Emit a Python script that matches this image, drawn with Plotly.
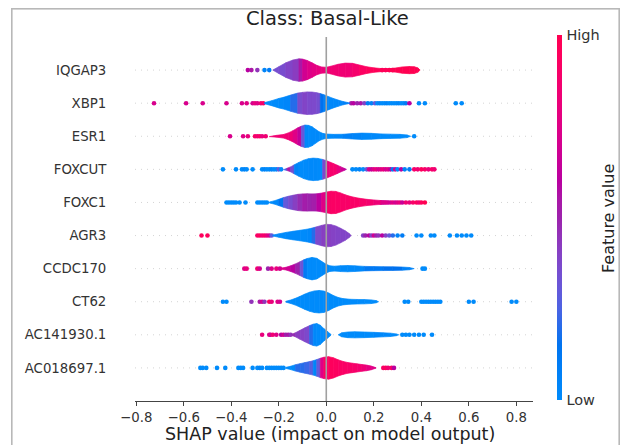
import numpy as np
import plotly.graph_objects as go

# ---------------- data ----------------
FEATURES = ["IQGAP3", "XBP1", "ESR1", "FOXCUT", "FOXC1", "AGR3",
            "CCDC170", "CT62", "AC141930.1", "AC018697.1"]
X_TICKS = [-0.8, -0.6, -0.4, -0.2, 0.0, 0.2, 0.4, 0.6, 0.8]
X_TICK_TEXT = ["\u22120.8", "\u22120.6", "\u22120.4", "\u22120.2", "0.0", "0.2", "0.4", "0.6", "0.8"]
TITLE = "Class: Basal-Like"
X_LABEL = "SHAP value (impact on model output)"
CBAR_LABEL = "Feature value"
CBAR_TICKS = ["Low", "High"]

# violin knots: SHAP x, relative half-width, mean feature value (0=low,1=high)
IQGAP3_X = [-0.225, -0.20, -0.17, -0.14, -0.115, -0.10, -0.08, -0.06, -0.04, -0.02, 0.00, 0.02, 0.05, 0.08, 0.11, 0.14, 0.17, 0.20, 0.23, 0.26, 0.29, 0.32, 0.35, 0.37, 0.385, 0.395]
IQGAP3_W = [0.0, 0.30, 0.65, 0.90, 1.0, 0.98, 0.85, 0.65, 0.42, 0.28, 0.25, 0.35, 0.52, 0.62, 0.60, 0.45, 0.30, 0.20, 0.14, 0.12, 0.18, 0.28, 0.32, 0.30, 0.20, 0.0]
IQGAP3_C = [0.35, 0.35, 0.38, 0.40, 0.45, 0.65, 0.72, 0.75, 0.78, 0.80, 0.82, 0.85, 0.85, 0.82, 0.85, 0.90, 0.95, 0.97, 0.97, 0.97, 1.0, 1.0, 1.0, 1.0, 1.0, 1.0]
IQGAP3_DOT_X = [-0.33, -0.315, -0.29, -0.26, -0.24, 0.235, 0.25, 0.265, 0.28]
IQGAP3_DOT_C = [0.6, 0.55, 0.45, 0.05, 0.1, 0.9, 0.95, 0.95, 1.0]

XBP1_X = [-0.26, -0.23, -0.20, -0.18, -0.15, -0.12, -0.10, -0.08, -0.06, -0.04, -0.025, -0.01, 0.01, 0.03, 0.05, 0.07, 0.09, 0.10]
XBP1_W = [0.05, 0.22, 0.42, 0.52, 0.72, 0.90, 0.96, 1.0, 0.99, 0.93, 0.85, 0.75, 0.58, 0.42, 0.28, 0.15, 0.06, 0.0]
XBP1_C = [0.0, 0.0, 0.0, 0.02, 0.05, 0.35, 0.38, 0.40, 0.35, 0.40, 0.30, 0.05, 0.03, 0.02, 0.02, 0.05, 0.1, 0.1]
XBP1_DOT_X = [-0.725, -0.59, -0.52, -0.42, -0.355, -0.335, -0.31, -0.30, -0.29, -0.275, -0.265,
              0.105, 0.115, 0.13, 0.145, 0.16, 0.175, 0.19, 0.205, 0.215, 0.225, 0.235, 0.245, 0.255,
              0.265, 0.275, 0.285, 0.295, 0.305, 0.315, 0.325, 0.335, 0.35, 0.39, 0.415, 0.545, 0.57]
XBP1_DOT_C = [0.72, 0.72, 0.72, 0.72, 0.72, 0.75, 0.7, 0.8, 0.75, 0.85, 0.9,
              0.55, 0.6, 0.5, 0.55, 0.4, 0.1, 0.05, 0.3, 0.0, 0.05, 0.0, 0.0, 0.05,
              0.0, 0.0, 0.0, 0.0, 0.05, 0.0, 0.0, 0.1, 0.6, 0.0, 0.0, 0.0, 0.0]

ESR1_X = [-0.24, -0.21, -0.18, -0.16, -0.14, -0.12, -0.105, -0.09, -0.075, -0.06, -0.045, -0.03, -0.015, 0.00, 0.03, 0.07, 0.11, 0.15, 0.19, 0.23, 0.27, 0.31, 0.34, 0.355]
ESR1_W = [0.03, 0.08, 0.16, 0.30, 0.50, 0.75, 0.90, 1.0, 0.97, 0.85, 0.62, 0.40, 0.26, 0.20, 0.17, 0.18, 0.24, 0.28, 0.26, 0.21, 0.19, 0.17, 0.12, 0.0]
ESR1_C = [0.85, 0.85, 0.85, 0.85, 0.80, 0.70, 0.55, 0.05, 0.0, 0.0, 0.02, 0.0, 0.0, 0.0, 0.0, 0.05, 0.1, 0.0, 0.02, 0.0, 0.0, 0.0, 0.0, 0.0]
ESR1_DOT_X = [-0.405, -0.35, -0.33, -0.30, -0.29, -0.28, -0.27, -0.255, 0.37]
ESR1_DOT_C = [0.72, 0.75, 0.8, 0.9, 0.85, 0.9, 0.8, 0.85, 0.0]

FOXCUT_X = [-0.18, -0.165, -0.15, -0.135, -0.115, -0.095, -0.075, -0.055, -0.035, -0.015, 0.00, 0.015, 0.03, 0.045, 0.06, 0.075, 0.085]
FOXCUT_W = [0.03, 0.10, 0.22, 0.40, 0.62, 0.82, 0.95, 1.0, 0.97, 0.88, 0.78, 0.65, 0.52, 0.38, 0.24, 0.10, 0.0]
FOXCUT_C = [0.05, 0.5, 0.6, 0.1, 0.0, 0.0, 0.0, 0.02, 0.0, 0.0, 0.75, 0.85, 0.9, 0.85, 0.75, 0.6, 0.6]
FOXCUT_DOT_X = [-0.435, -0.38, -0.355, -0.345, -0.335, -0.31, -0.27, -0.26, -0.25, -0.24, -0.23, -0.22, -0.21, -0.20, -0.19,
                0.11, 0.125, 0.14, 0.155, 0.17, 0.18, 0.19, 0.20, 0.21, 0.22, 0.23, 0.24, 0.25, 0.26, 0.27, 0.28,
                0.29, 0.30, 0.315, 0.33, 0.35, 0.37, 0.385, 0.40, 0.415, 0.43, 0.445, 0.455]
FOXCUT_DOT_C = [0.0, 0.0, 0.0, 0.05, 0.0, 0.0, 0.0, 0.05, 0.0, 0.0, 0.05, 0.0, 0.0, 0.3, 0.0,
                0.0, 0.0, 0.05, 0.0, 0.3, 0.7, 0.65, 0.75, 0.8, 0.7, 0.75, 0.8, 0.7, 0.75, 0.6, 0.1,
                0.7, 0.0, 0.6, 0.05, 0.1, 0.9, 0.85, 0.95, 0.9, 0.8, 0.9, 0.85]

FOXC1_X = [-0.24, -0.22, -0.20, -0.18, -0.16, -0.14, -0.12, -0.10, -0.08, -0.06, -0.04, -0.02, 0.00, 0.02, 0.04, 0.06, 0.08, 0.10, 0.12, 0.14, 0.17, 0.20, 0.23, 0.26, 0.28]
FOXC1_W = [0.04, 0.14, 0.28, 0.43, 0.55, 0.64, 0.72, 0.76, 0.77, 0.76, 0.77, 0.83, 0.92, 1.0, 0.98, 0.85, 0.68, 0.55, 0.45, 0.37, 0.28, 0.22, 0.17, 0.12, 0.0]
FOXC1_C = [0.0, 0.0, 0.05, 0.25, 0.35, 0.38, 0.45, 0.50, 0.55, 0.45, 0.60, 0.62, 0.88, 0.92, 0.92, 0.9, 0.9, 0.9, 0.92, 0.9, 0.88, 0.85, 0.8, 0.7, 0.7]
FOXC1_DOT_X = [-0.42, -0.41, -0.40, -0.39, -0.38, -0.365, -0.34, -0.29, -0.28, -0.27, -0.26, -0.25,
               0.23, 0.24, 0.25, 0.26, 0.27, 0.28, 0.29, 0.30, 0.31, 0.32, 0.335, 0.35, 0.365, 0.38, 0.39, 0.40, 0.415]
FOXC1_DOT_C = [0.0] * 12 + [0.6, 0.55, 0.7, 0.65, 0.75, 0.8, 0.7, 0.75, 0.8, 0.65, 0.85, 0.8, 0.9, 0.95, 0.85, 0.95, 1.0]

AGR3_X = [-0.225, -0.20, -0.17, -0.14, -0.11, -0.08, -0.06, -0.045, -0.02, 0.00, 0.02, 0.04, 0.06, 0.08, 0.095, 0.105]
AGR3_W = [0.04, 0.15, 0.28, 0.38, 0.47, 0.57, 0.66, 0.75, 0.90, 1.0, 0.97, 0.85, 0.65, 0.42, 0.20, 0.0]
AGR3_C = [0.0, 0.0, 0.0, 0.02, 0.0, 0.0, 0.05, 0.35, 0.40, 0.42, 0.40, 0.40, 0.38, 0.40, 0.38, 0.4]
AGR3_DOT_X = [-0.525, -0.50, -0.29, -0.28, -0.27, -0.26, -0.25, -0.24, -0.23,
              0.155, 0.165, 0.18, 0.19, 0.20, 0.21, 0.22, 0.235, 0.25, 0.265, 0.28, 0.30, 0.32, 0.38, 0.40,
              0.44, 0.455, 0.52, 0.55, 0.57, 0.59, 0.61]
AGR3_DOT_C = [0.95, 0.95, 0.9, 0.95, 0.85, 0.9, 0.8, 0.7, 0.3,
              0.4, 0.5, 0.6, 0.4, 0.7, 0.5, 0.45, 0.6, 0.4, 0.3, 0.2, 0.05, 0.1, 0.0, 0.0,
              0.0, 0.0, 0.0, 0.0, 0.0, 0.0, 0.0]

CCDC170_X = [-0.19, -0.17, -0.15, -0.13, -0.11, -0.095, -0.08, -0.06, -0.04, -0.02, 0.00, 0.015, 0.035, 0.06, 0.09, 0.12, 0.16, 0.20, 0.24, 0.28, 0.32, 0.35, 0.37]
CCDC170_W = [0.05, 0.12, 0.25, 0.42, 0.62, 0.78, 0.90, 1.0, 0.92, 0.65, 0.38, 0.25, 0.22, 0.26, 0.28, 0.25, 0.20, 0.18, 0.17, 0.16, 0.14, 0.10, 0.0]
CCDC170_C = [0.75, 0.7, 0.65, 0.55, 0.45, 0.2, 0.0, 0.0, 0.0, 0.0, 0.02, 0.0, 0.0, 0.0, 0.02, 0.0, 0.05, 0.2, 0.05, 0.3, 0.05, 0.1, 0.0]
CCDC170_DOT_X = [-0.345, -0.335, -0.29, -0.28, -0.245, -0.23, -0.21, -0.195, 0.405, 0.415]
CCDC170_DOT_C = [0.75, 0.8, 0.85, 0.7, 0.5, 0.75, 0.8, 0.7, 0.0, 0.0]

CT62_X = [-0.17, -0.15, -0.13, -0.11, -0.09, -0.07, -0.05, -0.03, -0.01, 0.01, 0.03, 0.05, 0.07, 0.10, 0.13, 0.16, 0.19, 0.21, 0.22]
CT62_W = [0.04, 0.15, 0.30, 0.48, 0.68, 0.85, 0.96, 1.0, 0.95, 0.78, 0.55, 0.38, 0.28, 0.22, 0.20, 0.19, 0.16, 0.10, 0.0]
CT62_C = [0.1, 0.0, 0.0, 0.0, 0.0, 0.0, 0.0, 0.0, 0.0, 0.0, 0.0, 0.0, 0.0, 0.0, 0.0, 0.0, 0.0, 0.0, 0.0]
CT62_DOT_X = [-0.435, -0.42, -0.315, -0.28, -0.27, -0.26, -0.24, -0.23, -0.205, -0.195,
              0.33, 0.345, 0.40, 0.41, 0.42, 0.43, 0.44, 0.45, 0.46, 0.47, 0.48, 0.60, 0.62, 0.78, 0.80]
CT62_DOT_C = [0.0, 0.0, 0.45, 0.55, 0.7, 0.45, 0.95, 0.8, 0.75, 0.7] + [0.0] * 15

AC141930_1_X = [-0.145, -0.13, -0.11, -0.09, -0.07, -0.055, -0.04, -0.025, -0.01, 0.005, 0.015, 0.02, 0.05, 0.065, 0.09, 0.12, 0.16, 0.20, 0.24, 0.27, 0.295, 0.305]
AC141930_1_W = [0.05, 0.18, 0.40, 0.62, 0.82, 0.95, 1.0, 0.85, 0.55, 0.30, 0.12, 0.0, 0.0, 0.18, 0.25, 0.27, 0.25, 0.22, 0.18, 0.15, 0.08, 0.0]
AC141930_1_C = [0.5, 0.45, 0.4, 0.4, 0.35, 0.05, 0.0, 0.0, 0.0, 0.0, 0.0, 0.0, 0.0, 0.0, 0.0, 0.0, 0.0, 0.0, 0.05, 0.0, 0.0, 0.0]
AC141930_1_DOT_X = [-0.27, -0.24, -0.235, -0.225, -0.21, -0.19, -0.18, -0.17, -0.16, -0.15,
                    0.32, 0.335, 0.35, 0.37, 0.39, 0.41, 0.445]
AC141930_1_DOT_C = [0.8, 0.75, 0.7, 0.85, 0.75, 0.6, 0.7, 0.5, 0.55, 0.45] + [0.0] * 7

AC018697_1_X = [-0.17, -0.15, -0.13, -0.11, -0.09, -0.07, -0.055, -0.04, -0.025, -0.01, 0.01, 0.03, 0.05, 0.07, 0.09, 0.11, 0.13, 0.15, 0.17, 0.19, 0.205, 0.21]
AC018697_1_W = [0.05, 0.15, 0.28, 0.38, 0.47, 0.56, 0.64, 0.74, 0.86, 0.95, 1.0, 0.90, 0.72, 0.58, 0.48, 0.42, 0.36, 0.30, 0.25, 0.16, 0.05, 0.0]
AC018697_1_C = [0.0, 0.0, 0.0, 0.4, 0.0, 0.45, 0.1, 0.0, 0.6, 0.9, 0.95, 0.95, 0.92, 0.92, 0.9, 0.9, 0.88, 0.85, 0.8, 0.75, 0.75, 0.75]
AC018697_1_DOT_X = [-0.53, -0.52, -0.505, -0.46, -0.425, -0.37, -0.36, -0.35, -0.31, -0.29, -0.28, -0.27,
                    -0.25, -0.24, -0.23, -0.22, -0.21, -0.20, -0.19, -0.18, 0.24, 0.25, 0.26, 0.275, 0.285]
AC018697_1_DOT_C = [0.0] * 10 + [0.05] + [0.0] * 9 + [0.9, 0.95, 0.85, 0.9, 0.6]

VIOLINS = {
    "IQGAP3": (IQGAP3_X, IQGAP3_W, IQGAP3_C, IQGAP3_DOT_X, IQGAP3_DOT_C),
    "XBP1": (XBP1_X, XBP1_W, XBP1_C, XBP1_DOT_X, XBP1_DOT_C),
    "ESR1": (ESR1_X, ESR1_W, ESR1_C, ESR1_DOT_X, ESR1_DOT_C),
    "FOXCUT": (FOXCUT_X, FOXCUT_W, FOXCUT_C, FOXCUT_DOT_X, FOXCUT_DOT_C),
    "FOXC1": (FOXC1_X, FOXC1_W, FOXC1_C, FOXC1_DOT_X, FOXC1_DOT_C),
    "AGR3": (AGR3_X, AGR3_W, AGR3_C, AGR3_DOT_X, AGR3_DOT_C),
    "CCDC170": (CCDC170_X, CCDC170_W, CCDC170_C, CCDC170_DOT_X, CCDC170_DOT_C),
    "CT62": (CT62_X, CT62_W, CT62_C, CT62_DOT_X, CT62_DOT_C),
    "AC141930.1": (AC141930_1_X, AC141930_1_W, AC141930_1_C, AC141930_1_DOT_X, AC141930_1_DOT_C),
    "AC018697.1": (AC018697_1_X, AC018697_1_W, AC018697_1_C, AC018697_1_DOT_X, AC018697_1_DOT_C),
}


# ---------------- SHAP red_blue colormap ----------------
def lch2rgb(L, C, H):
    a = C * np.cos(H)
    b = C * np.sin(H)
    fy = (L + 16) / 116
    fx = fy + a / 500
    fz = fy - b / 200

    def finv(t):
        return t ** 3 if t ** 3 > 0.008856 else (t - 16 / 116) / 7.787

    X = 0.95047 * finv(fx)
    Y = 1.0 * finv(fy)
    Z = 1.08883 * finv(fz)
    lin = [3.2406 * X - 1.5372 * Y - 0.4986 * Z,
           -0.9689 * X + 1.8758 * Y + 0.0415 * Z,
           0.0557 * X - 0.2040 * Y + 1.0570 * Z]
    out = []
    for c in lin:
        c = 12.92 * c if c <= 0.0031308 else 1.055 * c ** (1 / 2.4) - 0.055
        out.append(min(max(c, 0.0), 1.0))
    return out


blue_lch = [54.0, 70.0, 4.6588]
red_lch = [54.0, 90.0, 0.35470565 + 2 * np.pi]
nsteps = 100
l_vals = list(np.linspace(blue_lch[0], 40.0, nsteps // 2)) + list(np.linspace(40.0, red_lch[0], nsteps // 2))
c_vals = np.linspace(blue_lch[1], red_lch[1], nsteps)
h_vals = np.linspace(blue_lch[2], red_lch[2], nsteps)
CMAP = [lch2rgb(l_vals[i], c_vals[i], h_vals[i]) for i in range(nsteps)]


def rgb_str(c):
    return "rgb(%d,%d,%d)" % tuple(int(round(v * 255)) for v in c)


def cmap(v):
    v = min(max(v, 0.0), 1.0)
    return rgb_str(CMAP[int(round(v * (nsteps - 1)))])


COLORSCALE = [[i / 20, cmap(i / 20)] for i in range(21)]

# ---------------- figure ----------------
W, H = 629, 445
ML, MR, MT, MB = 135, 96, 37, 44
X_RANGE = [-0.805, 0.87]
n = len(FEATURES)
S = 0.34  # max half-width in row units


def px_x(p):
    return (p - ML) / (W - ML - MR)


def px_y(p):
    return (H - MB - p) / (H - MT - MB)


fig = go.Figure()

# dots
first = True
for i, name in enumerate(FEATURES):
    y = n - 1 - i
    xs, ws, cs, dx, dc = VIOLINS[name]
    marker = dict(size=4.6, color=dc, colorscale=COLORSCALE, cmin=0, cmax=1, line=dict(width=0))
    if first:
        marker.update(showscale=True, colorbar=dict(
            x=px_x(556.5), xanchor="left", xpad=0, ypad=0,
            y=px_y(217.5), yanchor="middle", len=365, lenmode="pixels",
            thickness=5, outlinewidth=0, tickvals=[0, 1], ticktext=CBAR_TICKS,
            ticks="outside", ticklen=2, tickcolor="rgba(0,0,0,0)",
            tickfont=dict(family="DejaVu Sans", size=14.5, color="#333333")))
        first = False
    fig.add_trace(go.Scatter(x=dx, y=[y] * len(dx), mode="markers", marker=marker,
                             hoverinfo="skip", showlegend=False))

# violins
for i, name in enumerate(FEATURES):
    y = n - 1 - i
    xs, ws, cs, dx, dc = VIOLINS[name]
    for j in range(len(xs) - 1):
        w0, w1 = ws[j] * S, ws[j + 1] * S
        if w0 == 0 and w1 == 0:
            continue
        col = cmap((cs[j] + cs[j + 1]) / 2)
        fig.add_trace(go.Scatter(
            x=[xs[j], xs[j + 1], xs[j + 1], xs[j], xs[j]],
            y=[y - w0, y - w1, y + w1, y + w0, y - w0],
            mode="lines", fill="toself", fillcolor=col,
            line=dict(color=col, width=0.7), hoverinfo="skip", showlegend=False))

shapes = []
for i in range(n):
    shapes.append(dict(type="line", xref="paper", x0=0, x1=1, yref="y", y0=i, y1=i,
                       line=dict(color="#d4d4d4", width=1, dash="1px,5px"), layer="below"))
shapes.append(dict(type="line", xref="x", x0=0, x1=0, yref="paper", y0=0, y1=1,
                   line=dict(color="#a0a0a0", width=1.6), layer="above"))

annotations = [
    # surrounding frame of the picture (open at the bottom edge of the page)
    dict(text=" ", x=px_x(11), y=px_y(8), xref="paper", yref="paper", showarrow=False,
         xanchor="left", yanchor="top", width=606, height=460, borderpad=0,
         bordercolor="#b8b8b8", borderwidth=1.6, bgcolor="rgba(0,0,0,0)"),
    dict(text=TITLE, x=px_x(327), y=px_y(19), xref="paper", yref="paper", showarrow=False,
         xanchor="center", yanchor="middle", font=dict(family="DejaVu Sans", size=19.5, color="#222222")),
    dict(text=X_LABEL, x=px_x(330), y=px_y(434), xref="paper", yref="paper", showarrow=False,
         xanchor="center", yanchor="middle", font=dict(family="DejaVu Sans", size=17.5, color="#222222")),
    dict(text=CBAR_LABEL, x=px_x(608), y=px_y(219), xref="paper", yref="paper", showarrow=False,
         textangle=-90, xanchor="center", yanchor="middle",
         font=dict(family="DejaVu Sans", size=16, color="#222222")),
]

fig.update_layout(
    width=W, height=H, margin=dict(l=ML, r=MR, t=MT, b=MB),
    paper_bgcolor="white", plot_bgcolor="white",
    shapes=shapes, annotations=annotations, showlegend=False,
    xaxis=dict(range=X_RANGE, tickvals=X_TICKS, ticktext=X_TICK_TEXT, showgrid=False, zeroline=False,
               showline=True, linecolor="#444444", linewidth=1, ticks="outside", ticklen=4,
               tickcolor="#444444", tickwidth=1,
               tickfont=dict(family="DejaVu Sans", size=13.3, color="#333333")),
    yaxis=dict(range=[-1, n], tickvals=list(range(n)), ticktext=FEATURES[::-1], showgrid=False,
               zeroline=False, showline=False, ticks="outside", ticklen=25,
               tickcolor="rgba(0,0,0,0)",
               tickfont=dict(family="DejaVu Sans", size=13.3, color="#333333")),
)

fig.write_html("out.html", config={"displayModeBar": False},
               post_script="document.body.style.margin='0px';document.body.style.overflow='hidden';")
